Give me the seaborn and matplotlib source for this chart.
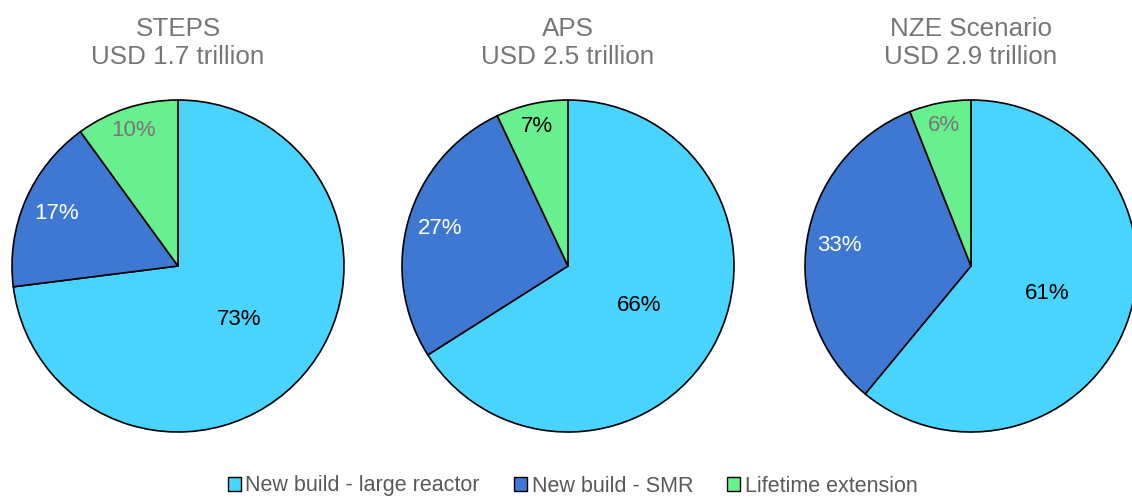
import numpy as np
import matplotlib
matplotlib.use("Agg")
import matplotlib.pyplot as plt
import seaborn as sns
from matplotlib.patches import Patch

sns.set_theme(style="white")
plt.rcParams['font.family'] = ['Liberation Sans', 'DejaVu Sans']

# data
scenarios = ["STEPS\nUSD 1.7 trillion", "APS\nUSD 2.5 trillion", "NZE Scenario\nUSD 2.9 trillion"]
categories = ["New build - large reactor", "New build - SMR", "Lifetime extension"]
steps = [73, 17, 10]
aps = [66, 27, 7]
nze = [61, 33, 6]
shares = [steps, aps, nze]

colors = ["#48D4FE", "#3E78D2", "#69F08E"]
label_dist = [0.49, 0.80, 0.86]
# colour of the small green label differs per chart
small_lbl_col = ["#767676", "black", "#767676"]

fig = plt.figure(figsize=(11.32, 4.99), dpi=100)
W, H = 1132, 499
R = 166
centers = [178, 568, 971]
cy = H - 266

for i, (title, vals) in enumerate(zip(scenarios, shares)):
    ax = fig.add_axes([(centers[i] - R) / W, (cy - R) / H, 2 * R / W, 2 * R / H])
    wedges, _ = ax.pie(vals, colors=colors, startangle=90, counterclock=False,
                       radius=1, wedgeprops=dict(edgecolor="black", linewidth=1.2))
    ax.set_xlim(-1, 1)
    ax.set_ylim(-1, 1)
    ax.set_aspect("equal")
    ax.axis("off")
    for w in wedges:
        w.set_clip_on(False)
    lbl_cols = ["black", "white", small_lbl_col[i]]
    for j, w in enumerate(wedges):
        th = np.deg2rad((w.theta1 + w.theta2) / 2)
        ax.text(label_dist[j] * np.cos(th), label_dist[j] * np.sin(th), f"{vals[j]}%",
                ha="center", va="center", fontsize=16, color=lbl_cols[j])
    fig.text(centers[i] / W, 1 - 43 / H, title, ha="center", va="center",
             fontsize=18.7, color="#767676", linespacing=1.2)

handles = [Patch(facecolor=c, edgecolor="black", linewidth=1) for c in colors]
fig.legend(handles, categories, loc="center", bbox_to_anchor=(0.506, 1 - 486 / H),
           ncol=3, frameon=False, fontsize=15.5, handlelength=0.6, handleheight=0.6,
           handletextpad=0.2, columnspacing=1.6, labelcolor="#595959")

fig.savefig("out.png", dpi=100)
